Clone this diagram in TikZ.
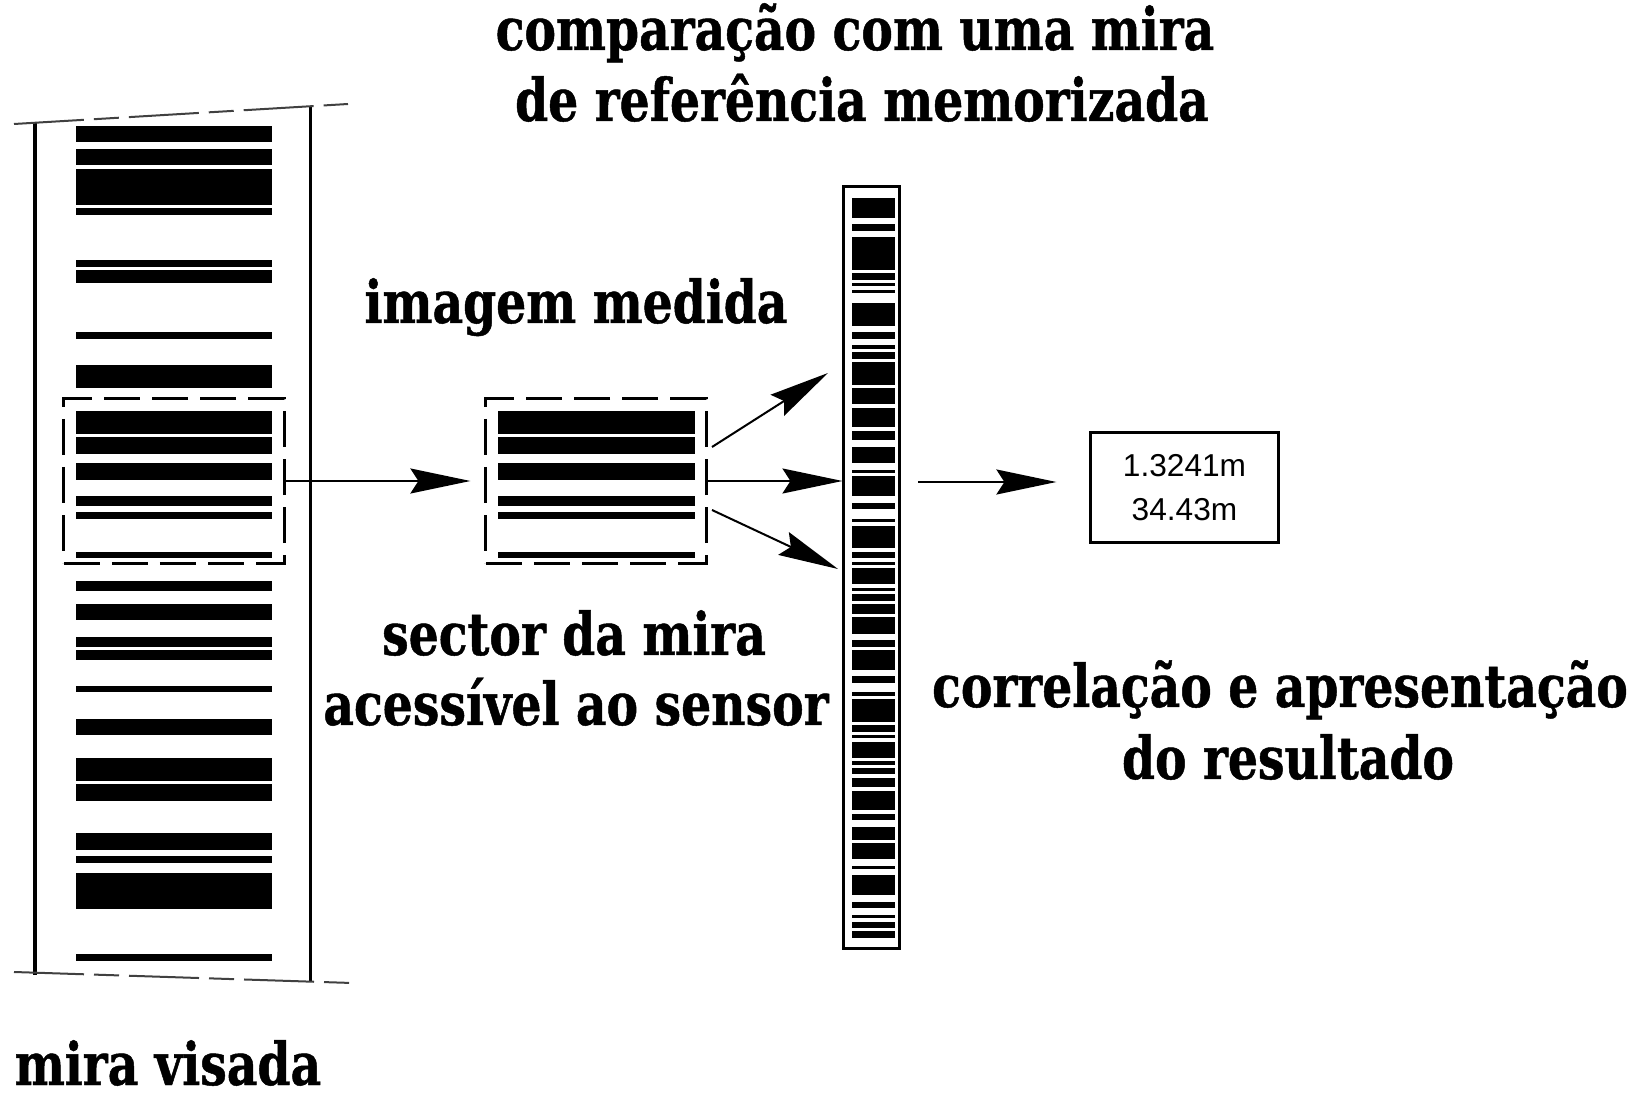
\documentclass[tikz,border=0pt]{standalone}
\usepackage{fontspec}
\newfontfamily\lblfont{DejaVu Serif}[FakeStretch=0.8, FakeBold=0.8]
\newfontfamily\numfont{Liberation Sans}
\usetikzlibrary{arrows.meta, positioning}

\begin{document}
\begin{tikzpicture}[x=0.01cm, y=-0.01cm, line width=0.02cm,
    lbl/.style={font=\lblfont\bfseries\fontsize{16.8}{19}\selectfont, inner sep=0pt, anchor=base},
    sectorbox/.style={draw, line width=0.03cm, dash pattern=on 0.36cm off 0.12cm, minimum width=2.2cm, minimum height=1.64cm, inner sep=0pt},
    miraedge/.style={black!75, line width=0.02cm, dash pattern=on 0.7cm off 0.1cm on 0.25cm off 0.1cm},
    frame/.style={line width=0.03cm},
    >={Stealth[length=0.6cm, width=0.25cm, inset=0.08cm]}]
  \useasboundingbox (0,0) rectangle (1650,1094);

  % mira visada
  \draw[frame] (35,122) -- (35,975);
  \draw[frame] (310,106) -- (310,982);
  \draw[miraedge] (14,124) -- (348,104);
  \draw[miraedge] (14,972) -- (352,983);
  \foreach \a/\b in {126/142, 149/165, 169/205, 208/215, 260/267, 270/283, 332/339, 365/388,
      411/434, 437/454, 463/480, 496/506, 512/519, 552/558, 581/591, 604/620, 637/647, 650/660,
      686/692, 719/735, 758/781, 784/801, 833/850, 856/863, 873/909, 954/961}
    \fill (76,\a) rectangle (272,\b);
  \node[sectorbox] (sector_mira) at (174,481) {};

  % imagem medida
  \node[sectorbox] (sector_img) at (596,481) {};
  \foreach \a/\b in {411/434, 437/454, 463/480, 496/506, 512/519, 552/558}
    \fill (498,\a) rectangle (695,\b);

  % mira de referencia
  \node[draw, frame, minimum width=0.555cm, minimum height=7.62cm, inner sep=0pt] (ref_mira) at (871.75,567.5) {};
  \foreach \a/\b in {198/218, 224/231, 237/270, 273/280, 283/286, 290/293, 303/326, 332/339,
      345/349, 352/359, 362/385, 388/404, 408/427, 431/440, 447/463, 470/473, 476/496, 503/509,
      519/522, 526/548, 552/558, 562/565, 568/584, 588/591, 594/601, 604/614, 617/634, 640/647,
      650/670, 676/683, 692/696, 699/722, 725/732, 735/738, 742/758, 761/765, 768/774, 778/787,
      791/810, 814/820, 827/840, 843/859, 866/869, 875/895, 902/908, 915/918, 922/928, 931/938}
    \fill (852,\a) rectangle (895,\b);

  % resultado
  \node[draw, frame, minimum width=1.87cm, minimum height=1.09cm, align=center,
    font=\numfont\fontsize{9}{12.5}\selectfont] (result) at (1184.5,487.5) {1.3241m\\34.43m};

  % setas
  \coordinate (up_start) at (712,447);
  \coordinate (up_end) at (828,373);
  \coordinate (down_start) at (712,510);
  \coordinate (down_end) at (838,569);
  \coordinate (out_start) at (918,482);
  \draw[->, shorten >=0.14cm] (sector_mira.east) -- (sector_img.west);
  \draw[->] (sector_img.east) -- (sector_img.east -| ref_mira.west);
  \draw[->] (up_start) -- (up_end);
  \draw[->] (down_start) -- (down_end);
  \draw[->, shorten >=0.33cm] (out_start) -- (out_start -| result.west);

  % textos
  \node[lbl] (title_a) at (855,50) {comparação com uma mira};
  \node[lbl] (title_b) at (862,121) {de referência memorizada};
  \node[lbl] (img_label) at (576,323) {imagem medida};
  \node[lbl] (sector_a) at (574,655) {sector da mira};
  \node[lbl] (sector_b) at (576,725) {acessível ao sensor};
  \node[lbl] (result_a) at (1280,707) {correlação e apresentação};
  \node[lbl] (result_b) at (1288,779) {do resultado};
  \node[lbl] (mira_label) at (168,1085) {mira visada};
\end{tikzpicture}
\end{document}
